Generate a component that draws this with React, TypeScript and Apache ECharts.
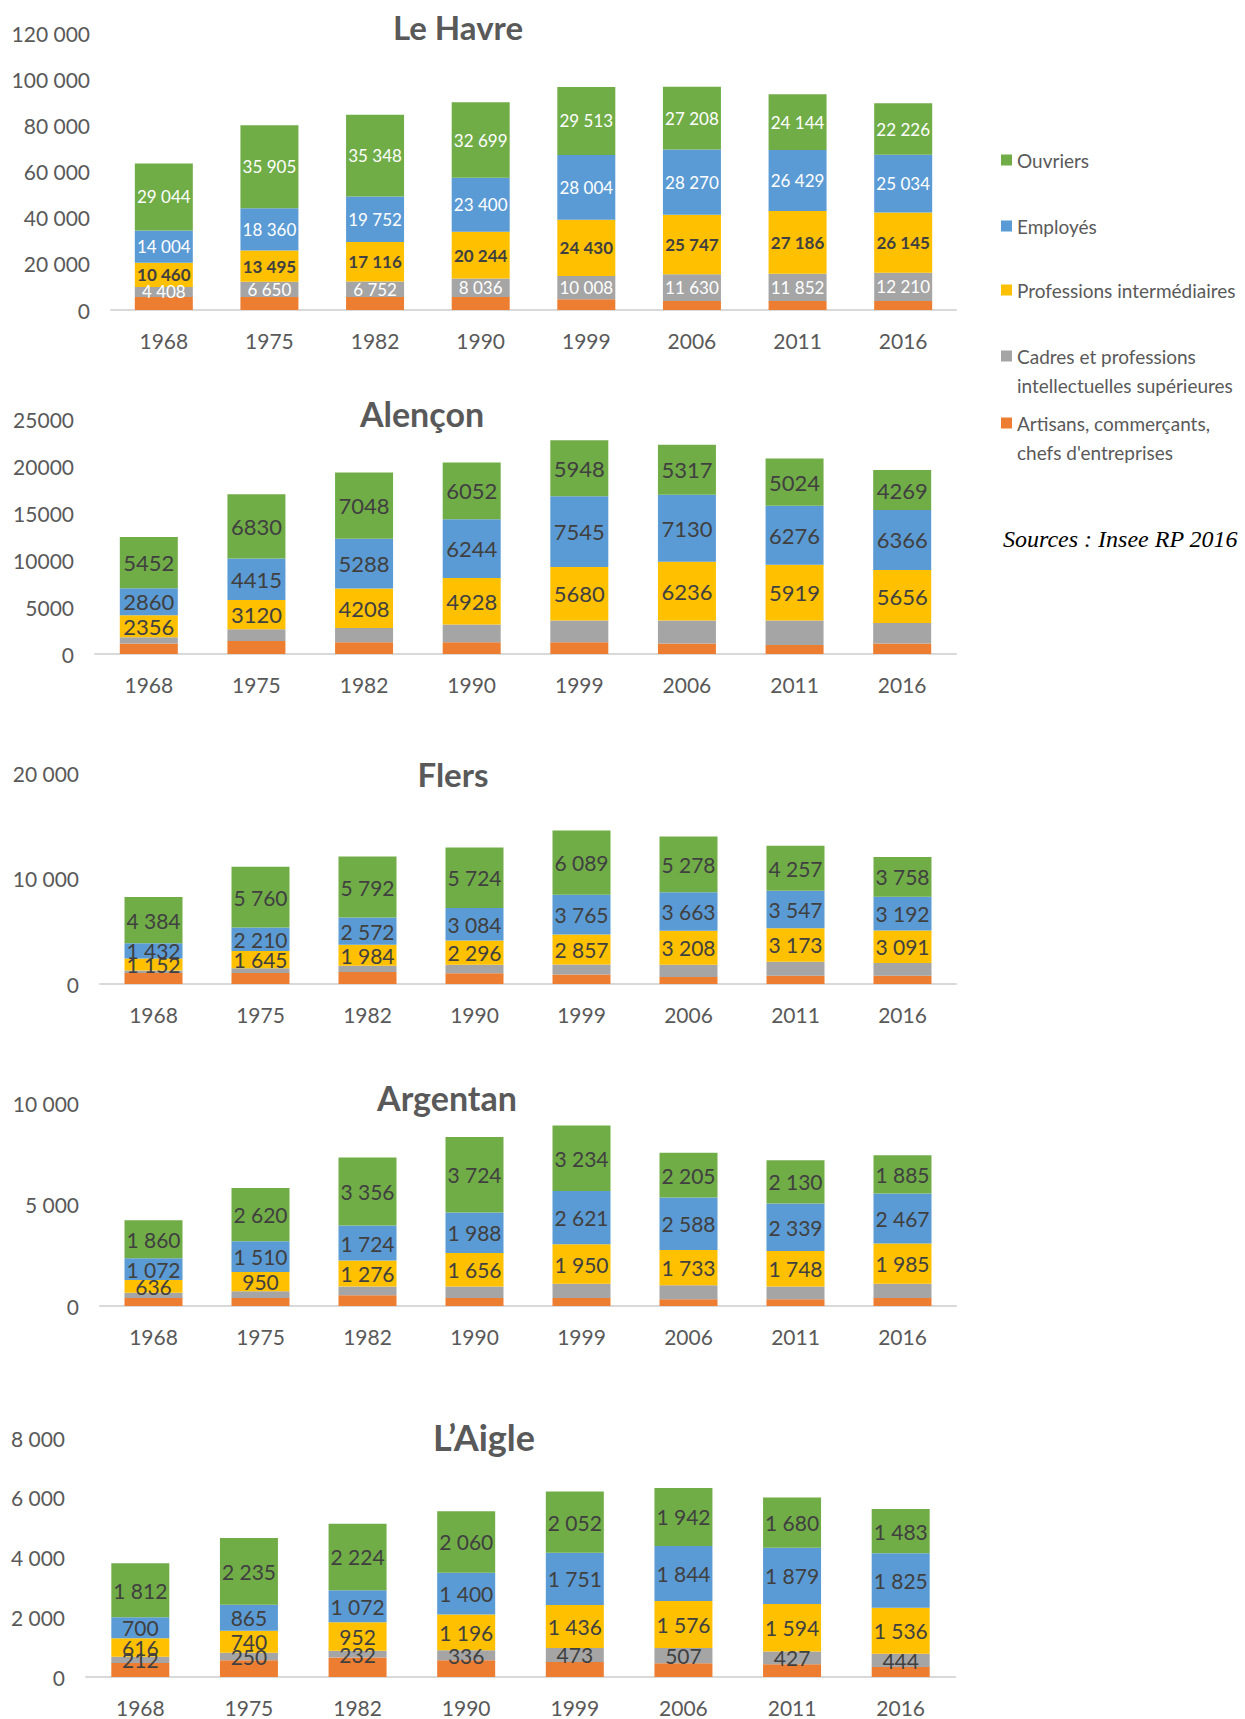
import React, { useEffect, useRef } from "react";
import * as echarts from "echarts";

// ---------- DATA ----------
const years = ["1968", "1975", "1982", "1990", "1999", "2006", "2011", "2016"];
const seriesNames = [
  "Artisans, commerçants,\nchefs d'entreprises",
  "Cadres et professions\nintellectuelles supérieures",
  "Professions intermédiaires",
  "Employés",
  "Ouvriers",
];
const cityNames = ["Le Havre", "Alençon", "Flers", "Argentan", "L\u2019Aigle"];

// Le Havre
const leHavreArtisans = [5600, 5600, 5600, 5600, 4700, 3900, 3900, 3900];
const leHavreCadres = [4408, 6650, 6752, 8036, 10008, 11630, 11852, 12210];
const leHavreProf = [10460, 13495, 17116, 20244, 24430, 25747, 27186, 26145];
const leHavreEmployes = [14004, 18360, 19752, 23400, 28004, 28270, 26429, 25034];
const leHavreOuvriers = [29044, 35905, 35348, 32699, 29513, 27208, 24144, 22226];

// Alençon
const alenconArtisans = [1130, 1380, 1240, 1240, 1240, 1130, 950, 1130];
const alenconCadres = [640, 1240, 1520, 1910, 2330, 2440, 2620, 2160];
const alenconProf = [2356, 3120, 4208, 4928, 5680, 6236, 5919, 5656];
const alenconEmployes = [2860, 4415, 5288, 6244, 7545, 7130, 6276, 6366];
const alenconOuvriers = [5452, 6830, 7048, 6052, 5948, 5317, 5024, 4269];

// Flers
const flersArtisans = [1050, 1050, 1140, 1010, 890, 665, 790, 790];
const flersCadres = [220, 440, 600, 820, 950, 1170, 1330, 1200];
const flersProf = [1152, 1645, 1984, 2296, 2857, 3208, 3173, 3091];
const flersEmployes = [1432, 2210, 2572, 3084, 3765, 3663, 3547, 3192];
const flersOuvriers = [4384, 5760, 5792, 5724, 6089, 5278, 4257, 3758];

// Argentan
const argentanArtisans = [400, 400, 530, 400, 400, 330, 330, 400];
const argentanCadres = [250, 330, 430, 560, 690, 690, 630, 690];
const argentanProf = [636, 950, 1276, 1656, 1950, 1733, 1748, 1985];
const argentanEmployes = [1072, 1510, 1724, 1988, 2621, 2588, 2339, 2467];
const argentanOuvriers = [1860, 2620, 3356, 3724, 3234, 2205, 2130, 1885];

// L'Aigle
const aigleArtisans = [470, 560, 650, 560, 500, 460, 425, 335];
const aigleCadres = [212, 250, 232, 336, 473, 507, 427, 444];
const aigleProf = [616, 740, 952, 1196, 1436, 1576, 1594, 1536];
const aigleEmployes = [700, 865, 1072, 1400, 1751, 1844, 1879, 1825];
const aigleOuvriers = [1812, 2235, 2224, 2060, 2052, 1942, 1680, 1483];

// y-axis scales
const yMaxes = [120000, 25000, 20000, 10000, 8000];
const yIntervals = [20000, 5000, 10000, 5000, 2000];

const sourceText = "Sources : Insee RP 2016";

// ---------- LAYOUT / STYLE ----------
const FONT = "Lato, 'Open Sans', sans-serif";
const TEXT_GREY = "#595959";
const LABEL_DARK = "#404040";
const colors = ["#ED7D31", "#A5A5A5", "#FFC000", "#5B9BD5", "#70AD47"];

const panelData = [
  [leHavreArtisans, leHavreCadres, leHavreProf, leHavreEmployes, leHavreOuvriers],
  [alenconArtisans, alenconCadres, alenconProf, alenconEmployes, alenconOuvriers],
  [flersArtisans, flersCadres, flersProf, flersEmployes, flersOuvriers],
  [argentanArtisans, argentanCadres, argentanProf, argentanEmployes, argentanOuvriers],
  [aigleArtisans, aigleCadres, aigleProf, aigleEmployes, aigleOuvriers],
];

const grids = [
  { left: 111, top: 33, width: 845, height: 277 },
  { left: 95, top: 419, width: 861, height: 235 },
  { left: 100, top: 773, width: 856, height: 211 },
  { left: 100, top: 1103, width: 856, height: 203 },
  { left: 86, top: 1438, width: 869, height: 239 },
];
const titlePos = [
  [458, 27],
  [422, 413],
  [453, 774],
  [447, 1097],
  [484, 1437],
];
const titleSizes = [33, 34, 33, 34, 36];
const useSpace = [true, false, true, true, true];
const labelSizes = [17, 22, 21, 21, 21];

const fmtSpace = (v: number) => String(Math.round(v)).replace(/\B(?=(\d{3})+(?!\d))/g, " ");

function labelFor(p: number, s: number): any {
  if (s === 0) return { show: false };
  if (s === 1 && p !== 0 && p !== 4) return { show: false };
  const fmt = useSpace[p] ? fmtSpace : (v: number) => String(v);
  let color = LABEL_DARK;
  let weight: any = "normal";
  if (p === 0) {
    if (s === 2) {
      weight = "bold";
    } else {
      color = "#FFFFFF";
    }
  }
  return {
    show: true,
    position: "inside",
    color,
    fontWeight: weight,
    fontFamily: FONT,
    fontSize: labelSizes[p],
    formatter: (prm: any) => fmt(prm.value),
  };
}

const legendOrder = [4, 3, 2, 1, 0];
const legendCenters = [160, 226, 290, 356, 423];

export default function App() {
  const ref = useRef<HTMLDivElement>(null);
  useEffect(() => {
    if (!ref.current) return;
    const chart = echarts.init(ref.current, undefined, { renderer: "svg" });

    const series: any[] = [];
    panelData.forEach((arrs, p) => {
      arrs.forEach((arr, s) => {
        series.push({
          type: "bar",
          name: seriesNames[s],
          stack: "panel" + p,
          xAxisIndex: p,
          yAxisIndex: p,
          barWidth: 58,
          data: arr,
          itemStyle: { color: colors[s] },
          label: labelFor(p, s),
          emphasis: { disabled: true },
        });
      });
    });

    const legends = legendOrder.map((si, i) => {
      const twoLine = seriesNames[si].includes("\n");
      const h = twoLine ? 80 : 40;
      const icon = twoLine
        ? "path://M0 0L0.01 0L0.01 0.01Z M0 20L11 20L11 31L0 31Z M0 80L0.01 80L0.01 79.99Z"
        : "path://M0 0L0.01 0L0.01 0.01Z M0 14.5L11 14.5L11 25.5L0 25.5Z M0 40L0.01 40L0.01 39.99Z";
      return {
        data: [seriesNames[si]],
        left: 1001,
        top: legendCenters[i] - (twoLine ? 25.5 : 20),
        orient: "vertical",
        padding: 0,
        itemWidth: 11,
        itemHeight: h,
        itemGap: 0,
        icon,
        selectedMode: false,
        textStyle: {
          fontFamily: FONT,
          fontSize: 19,
          color: TEXT_GREY,
          lineHeight: 29,
        },
      };
    });

    const graphics: any[] = cityNames.map((name, p) => ({
      type: "text",
      x: titlePos[p][0],
      y: titlePos[p][1],
      style: {
        text: name,
        fontFamily: FONT,
        fontSize: titleSizes[p],
        fontWeight: "bold",
        fill: TEXT_GREY,
        align: "center",
        verticalAlign: "middle",
      },
    }));
    graphics.push({
      type: "text",
      x: 1003,
      y: 539,
      style: {
        text: sourceText,
        fontFamily: "'Liberation Serif', 'DejaVu Serif', serif",
        fontStyle: "italic",
        fontSize: 24,
        fill: "#000000",
        align: "left",
        verticalAlign: "middle",
      },
    });

    const option: any = {
      animation: false,
      backgroundColor: "#FFFFFF",
      grid: grids.map((g) => ({ ...g, containLabel: false })),
      xAxis: grids.map((_, p) => ({
        type: "category",
        gridIndex: p,
        data: years,
        axisLine: { show: true, lineStyle: { color: "#D9D9D9", width: 2 } },
        axisTick: { show: false },
        axisLabel: { color: TEXT_GREY, fontFamily: FONT, fontSize: 21, margin: 20 },
      })),
      yAxis: grids.map((_, p) => ({
        type: "value",
        gridIndex: p,
        min: 0,
        max: yMaxes[p],
        interval: yIntervals[p],
        axisLine: { show: false },
        axisTick: { show: false },
        splitLine: { show: false },
        axisLabel: {
          color: TEXT_GREY,
          fontFamily: FONT,
          fontSize: 21,
          margin: 21,
          formatter: (v: number) => (useSpace[p] ? fmtSpace(v) : String(v)),
        },
      })),
      legend: legends,
      graphic: graphics,
      series,
    };
    chart.setOption(option);
    return () => chart.dispose();
  }, []);
  return (
    <div
      ref={ref}
      style={{ position: "absolute", left: 0, top: 0, width: 1245, height: 1719, background: "#fff" }}
    />
  );
}
